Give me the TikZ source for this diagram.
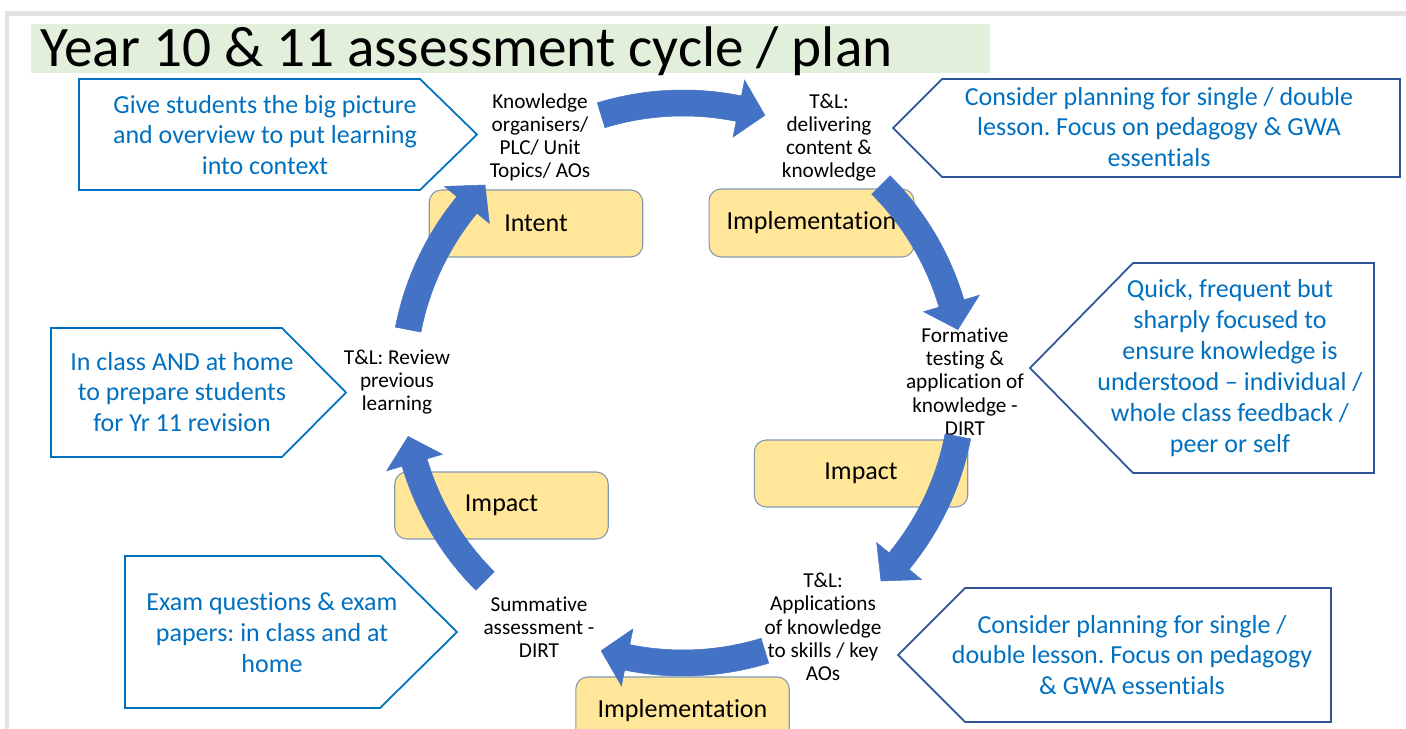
\documentclass[tikz,border=0pt]{standalone}
\usepackage{fontspec}
\setmainfont{Carlito}[Ligatures=NoCommon]
\usepackage{tikz}
\frenchspacing

\definecolor{arrowblue}{HTML}{4472C4}
\definecolor{noteblue}{HTML}{0070C0}
\definecolor{navyline}{HTML}{2F5597}
\definecolor{stageyellow}{HTML}{FFE699}
\definecolor{stageline}{HTML}{8497B0}
\definecolor{titlegreen}{HTML}{E2EFDA}
\definecolor{framegrey}{HTML}{E3E3E3}

\tikzset{
  stage/.style={draw=stageline,fill=stageyellow,line width=0.6pt,rounded corners=0.24cm,
    minimum width=4.27cm,minimum height=1.34cm,inner sep=0pt,font=\fontsize{14.8}{17.6}\selectfont},
  note/.style={text=noteblue,align=center,inner sep=0pt,font=\fontsize{14.8}{17.6}\selectfont},
  stepnote/.style={align=center,inner sep=0pt,font=\fontsize{12.1}{13.2}\selectfont},
  leftbox/.style={draw=noteblue,line width=1pt,fill=white},
  rightbox/.style={draw=navyline,line width=1pt,fill=white},
  cycarrow/.style={fill=arrowblue,draw=arrowblue,line width=0.3pt}
}

\begin{document}
\begin{tikzpicture}[x=0.02cm,y=-0.02cm]
\useasboundingbox (0,0) rectangle (1406,729);
\clip (0,0) rectangle (1406,729);
\fill[white] (0,0) rectangle (1406,729);
% slide frame
\fill[framegrey] (5,11) rectangle (1406,16);
\fill[framegrey] (5,11) rectangle (9,729);
% title
\fill[titlegreen] (31,24) rectangle (990,73);
\node[anchor=base west,inner sep=0pt,font=\fontsize{32.6}{38}\selectfont] (title) at (40,67)
  {Year 10 \& 11 assessment cycle / plan};

% call-out boxes
\draw[leftbox] (79,79) -- (420,79) -- (477,134.5) -- (420,190) -- (79,190) -- cycle;
\draw[rightbox] (893,128) -- (942,79) -- (1400,79) -- (1400,177) -- (942,177) -- cycle;
\draw[rightbox] (1030,368) -- (1133,263) -- (1374,263) -- (1374,473) -- (1133,473) -- cycle;
\draw[rightbox] (898,655) -- (965,588) -- (1331,588) -- (1331,722) -- (965,722) -- cycle;
\draw[leftbox] (51,328) -- (282,328) -- (346,392.5) -- (282,457) -- (51,457) -- cycle;
\draw[leftbox] (125,556) -- (380,556) -- (457,632) -- (380,708) -- (125,708) -- cycle;

\node[note] (bigpic) at (265,135) {Give students the big picture\\and overview to put learning\\into context};
\node[note] (plantop) at (1159,127) {Consider planning for single / double\\lesson. Focus on pedagogy \& GWA\\essentials};
\node[note] (quick) at (1230,368) {Quick, frequent but\\sharply focused to\\ensure knowledge is\\understood – individual /\\whole class feedback /\\peer or self};
\node[note] (planbot) at (1132,655) {Consider planning for single /\\double lesson. Focus on pedagogy\\\& GWA essentials};
\node[note] (home) at (182,392) {In class AND at home\\to prepare students\\for Yr 11 revision};
\node[note] (exam) at (272,633) {Exam questions \& exam\\papers: in class and at\\home};

% stages
\node[stage] (intent) at (536,223.5) {Intent};
\node[stage,minimum width=4.1cm,minimum height=1.36cm] (implA) at (811.5,223) {Implementation};
\node[stage] (impactA) at (861,473.5) {Impact};
\node[stage] (impactB) at (501.5,505.5) {Impact};
\node[stage,minimum height=1.36cm] (implB) at (682.5,711) {Implementation};

% step texts
\node[stepnote] (know) at (540,137.5) {Knowledge\\organisers/\\PLC/ Unit\\Topics/ AOs};
\node[stepnote] (deliver) at (829,137.5) {T\&L:\\delivering\\content \&\\knowledge};
\node[stepnote] (formative) at (965,381.5) {Formative\\testing \&\\application of\\knowledge -\\DIRT};
\node[stepnote] (apply) at (823,627) {T\&L:\\Applications\\of knowledge\\to skills / key\\AOs};
\node[stepnote] (summative) at (539,627) {Summative\\assessment -\\DIRT};
\node[stepnote] (review) at (397,382) {T\&L: Review\\previous\\learning};

% cycle arrows
\foreach \c in {90,28,-28,-90,-152,152} {
  \pgfmathsetmacro\tl{\c+17}
  \pgfmathsetmacro\tp{\c-17}
  \pgfmathsetmacro\hb{\c-11.5}
  \fill[cycarrow] plot[domain=\tl:\hb,samples=25] ({683+293*cos(\x)},{383-293*sin(\x)})
    -- ({683+309*cos(\hb)},{383-309*sin(\hb)}) -- ({683+280*cos(\tp)},{383-280*sin(\tp)})
    -- ({683+251*cos(\hb)},{383-251*sin(\hb)})
    -- plot[domain=\hb:\tl,samples=25] ({683+267*cos(\x)},{383-267*sin(\x)}) -- cycle;
}
\end{tikzpicture}
\end{document}
